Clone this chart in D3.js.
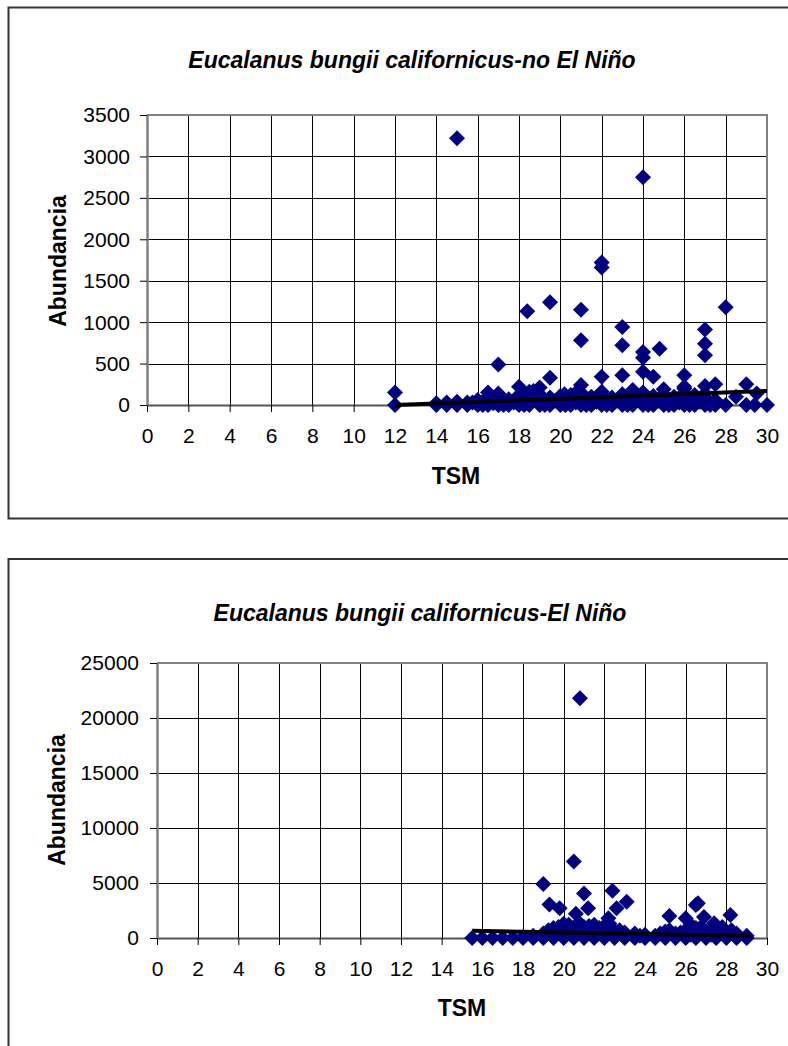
<!DOCTYPE html>
<html>
<head>
<meta charset="utf-8">
<script src="https://cdn.jsdelivr.net/npm/d3@7"></script>
<style>
  body { margin: 0; background: #fff; }
  svg text { font-family: "Liberation Sans", Arial, sans-serif; }
</style>
</head>
<body>
<div id="container"></div>
<script>
// tick values
const xTicks = [0, 2, 4, 6, 8, 10, 12, 14, 16, 18, 20, 22, 24, 26, 28, 30];
const topYTicks = [0, 500, 1000, 1500, 2000, 2500, 3000, 3500];
const botYTicks = [0, 5000, 10000, 15000, 20000, 25000];

// no El Niño: TSM and abundance
const topX = [
  15, 24, 22, 22, 19.5, 18.4, 21, 28, 23, 21, 23, 27, 27, 27, 24.8, 24, 24, 24, 24.5,
  17, 19.5, 22, 23, 26, 21, 26, 27, 27.5, 29, 25, 23.5, 18, 19, 18.7, 16.5, 17,
  12, 12, 29.5, 28.5, 28, 30, 29, 29.4, 20.2, 20.8, 22, 26, 18.5,
  14, 14, 14.5, 14.5, 15, 15, 15.5, 15.5, 16, 16, 16, 16.5, 16.5, 16.5,
  17, 17, 17, 17.5, 17.5, 17.5, 18, 18, 18, 18.5, 18.5, 19, 19, 19, 19.5, 19.5,
  20, 20, 20, 20.5, 20.5, 20.5, 21, 21, 21, 21.5, 21.5, 21.5, 22, 22, 22,
  22.5, 22.5, 22.5, 23, 23, 23, 23.5, 23.5, 24, 24, 24, 24.5, 24.5,
  25, 25, 25, 25.5, 25.5, 25.5, 26, 26, 26, 26.5, 26.5, 26.5, 27, 27, 27, 27.5, 27.5,
  15.75, 16.25, 16.75, 17.25, 17.75, 18.25, 18.75, 19.25, 19.75, 20.25, 20.75,
  21.25, 21.75, 22.25, 22.75, 23.25, 23.75, 24.25, 24.75, 25.25, 25.75, 26.25,
  26.75, 27.25, 16.25, 17.25, 18.25, 19.25, 20.25, 21.25, 22.25, 23.25, 24.25,
  25.25, 26.25, 27.25
];
const topY = [
  3220, 2750, 1720, 1660, 1240, 1130, 1150, 1180, 940, 780, 720, 910, 740, 600, 680, 640, 570, 400, 340,
  490, 330, 340, 360, 360, 240, 220, 230, 250, 250, 190, 180, 220, 210, 170, 150, 140,
  150, 0, 140, 100, 0, 0, 0, 0, 130, 160, 160, 200, 160,
  0, 20, 0, 30, 0, 40, 0, 30, 0, 60, 20, 0, 90, 40,
  0, 100, 50, 0, 70, 30, 0, 120, 60, 0, 50, 0, 130, 70, 0, 90,
  0, 110, 60, 0, 120, 50, 0, 150, 80, 0, 100, 40, 0, 120, 70,
  0, 90, 40, 0, 130, 60, 0, 100, 0, 150, 80, 0, 110,
  0, 130, 70, 0, 100, 40, 0, 150, 90, 0, 120, 60, 0, 140, 80, 0, 60,
  30, 40, 20, 50, 30, 40, 60, 30, 50, 40, 30,
  60, 40, 30, 50, 40, 60, 30, 50, 40, 30, 60,
  40, 30, 0, 0, 0, 0, 0, 0, 0, 0, 0,
  0, 0, 0
];
const topTrendX = [12, 30];
const topTrendY = [0, 170];

// El Niño: TSM and abundance
const botX = [
  20.8, 20.5, 19, 21, 22.4, 19.3, 19.8, 21.2, 23.1, 22.6, 20.6, 22.2, 26.5, 26.6, 25.2,
  26, 26.9, 28.2, 27.4, 27.8, 20, 21.5, 22, 19.5, 25.2,
  15.5, 16, 16.5, 17, 17.5, 18, 18, 18.5, 18.5, 19, 19, 19, 19.5, 19.5, 19.5,
  20, 20, 20, 20.5, 20.5, 20.5, 21, 21, 21, 21.5, 21.5, 21.5, 22, 22, 22,
  22.5, 22.5, 23, 23, 23.5, 23.5, 24, 24, 24.5, 24.5, 25, 25, 25.5, 25.5,
  26, 26, 26.5, 26.5, 27, 27, 27.5, 27.5, 28, 28, 28.5, 28.5, 29, 29,
  19.25, 19.75, 20.25, 20.75, 21.25, 21.75, 22.25, 22.75, 20.25, 21.25, 22.25,
  25.75, 26.25, 26.75, 27.25, 27.75, 28.25, 26.25, 27.25, 24.75, 23.75
];
const botY = [
  21800, 6950, 4900, 4050, 4300, 3050, 2700, 2700, 3300, 2700, 2200, 1800, 3000, 3150, 2000,
  1800, 1900, 2100, 1350, 1000, 1300, 1200, 1100, 900, 700,
  0, 0, 0, 0, 0, 0, 100, 0, 200, 0, 400, 200, 0, 600, 300,
  0, 800, 400, 0, 900, 300, 0, 1000, 500, 0, 700, 300, 0, 900, 400,
  0, 600, 0, 500, 0, 400, 0, 300, 0, 200, 0, 600, 0, 400,
  0, 700, 0, 900, 0, 600, 0, 800, 0, 500, 0, 400, 0, 200,
  700, 1000, 1200, 1400, 1100, 900, 1300, 700, 500, 600, 500,
  500, 1200, 1000, 800, 600, 700, 300, 300, 400, 200
];
const botTrendX = [15.5, 29.2];
const botTrendY = [660, 180];

const W = 788, H = 1046;
const svg = d3.select("#container").append("svg")
  .attr("width", W).attr("height", H);

const diamond = "M0,-8L8,0L0,8L-8,0Z";

function drawChart(cfg) {
  const g = svg.append("g");

  g.append("rect")
    .attr("x", cfg.box.x).attr("y", cfg.box.y)
    .attr("width", cfg.box.w).attr("height", cfg.box.h)
    .attr("fill", "#fff").attr("stroke", "#333").attr("stroke-width", 2);

  const x = d3.scaleLinear().domain([0, 30]).range([cfg.left, cfg.right]);
  const y = d3.scaleLinear().domain([0, cfg.yMax]).range([cfg.bottom, cfg.top]);

  // grid
  g.append("g").selectAll("line").data(xTicks.slice(1, -1)).join("line")
    .attr("x1", d => Math.round(x(d)) + 0.5).attr("x2", d => Math.round(x(d)) + 0.5)
    .attr("y1", cfg.top).attr("y2", cfg.bottom)
    .attr("stroke", "#000").attr("stroke-width", 1);
  g.append("g").selectAll("line").data(cfg.yTicks.slice(1, -1)).join("line")
    .attr("x1", cfg.left).attr("x2", cfg.right)
    .attr("y1", d => Math.round(y(d)) + 0.5).attr("y2", d => Math.round(y(d)) + 0.5)
    .attr("stroke", "#000").attr("stroke-width", 1);

  // border top / right
  g.append("path")
    .attr("d", `M${cfg.left},${cfg.top}H${cfg.right}V${cfg.bottom}`)
    .attr("fill", "none").attr("stroke", "#808080").attr("stroke-width", 2);

  // axes
  const xAxis = g.append("g")
    .attr("transform", `translate(0,${cfg.bottom})`)
    .call(d3.axisBottom(x).tickValues(xTicks).tickSize(7).tickSizeOuter(0).tickFormat(d3.format("d")));
  const yAxis = g.append("g")
    .attr("transform", `translate(${cfg.left},0)`)
    .call(d3.axisLeft(y).tickValues(cfg.yTicks).tickSize(7).tickSizeOuter(0).tickFormat(d3.format("d")));

  xAxis.select(".domain").attr("stroke", "#555").attr("stroke-width", 2);
  yAxis.select(".domain").attr("stroke", "#808080").attr("stroke-width", 2.5);
  xAxis.selectAll(".tick line").attr("stroke", "#000");
  yAxis.selectAll(".tick line").attr("stroke", "#000");
  xAxis.selectAll(".tick text")
    .attr("y", 38).attr("dy", null)
    .attr("font-size", 21).attr("font-family", "Liberation Sans, Arial, sans-serif").attr("fill", "#000");
  yAxis.selectAll(".tick text")
    .attr("x", cfg.yLabelX).attr("dy", "0.33em")
    .attr("font-size", 21).attr("font-family", "Liberation Sans, Arial, sans-serif").attr("fill", "#000");

  // points
  g.append("g").selectAll("path").data(cfg.xs.map((d, i) => [d, cfg.ys[i]])).join("path")
    .attr("d", diamond)
    .attr("transform", d => `translate(${x(d[0])},${y(d[1])})`)
    .attr("fill", "#000080");

  // trend line
  g.append("line")
    .attr("x1", x(cfg.trendX[0])).attr("y1", y(cfg.trendY[0]))
    .attr("x2", x(cfg.trendX[1])).attr("y2", y(cfg.trendY[1]))
    .attr("stroke", "#000").attr("stroke-width", 4);

  // titles
  g.append("text")
    .attr("x", cfg.titleX).attr("y", cfg.titleY)
    .attr("text-anchor", "middle")
    .attr("font-size", 23).attr("font-weight", "bold").attr("font-style", "italic")
    .text(cfg.title);

  g.append("text")
    .attr("x", cfg.xTitleX).attr("y", cfg.xTitleY)
    .attr("text-anchor", "middle")
    .attr("font-size", 23).attr("font-weight", "bold")
    .text("TSM");

  g.append("text")
    .attr("transform", `translate(${cfg.yTitleX},${cfg.yTitleY}) rotate(-90)`)
    .attr("text-anchor", "middle")
    .attr("font-size", 23).attr("font-weight", "bold")
    .text("Abundancia");
}

drawChart({
  box: { x: 8.5, y: 7.5, w: 900, h: 511 },
  left: 147, right: 767, top: 115, bottom: 405,
  yMax: 3500, yTicks: topYTicks, yLabelX: -17,
  xs: topX, ys: topY, trendX: topTrendX, trendY: topTrendY,
  title: "Eucalanus bungii californicus-no El Niño", titleX: 412, titleY: 68,
  xTitleX: 456, xTitleY: 484, yTitleX: 66, yTitleY: 261
});

drawChart({
  box: { x: 8.5, y: 559, w: 900, h: 600 },
  left: 157, right: 767, top: 663, bottom: 938,
  yMax: 25000, yTicks: botYTicks, yLabelX: -18,
  xs: botX, ys: botY, trendX: botTrendX, trendY: botTrendY,
  title: "Eucalanus bungii californicus-El Niño", titleX: 420, titleY: 621,
  xTitleX: 462, xTitleY: 1016, yTitleX: 65, yTitleY: 800
});
</script>
</body>
</html>
